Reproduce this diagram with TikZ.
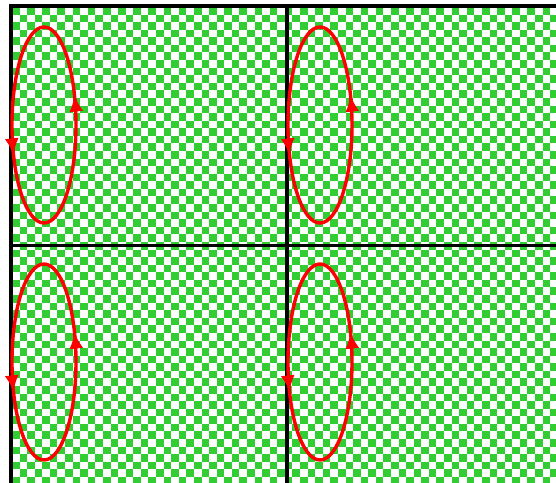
\documentclass[tikz,border=0pt]{standalone}
\usetikzlibrary{arrows.meta,decorations.markings}
\definecolor{ckgreen}{RGB}{50,205,50}
\begin{document}
\begin{tikzpicture}[x=1pt,y=1pt,
  frame/.style={line width=3.3pt, black, line join=miter},
  orbit/.style={red, line width=3.4pt, postaction={decorate},
    decoration={markings,
      mark=at position 0.07 with {\arrow{Latex[length=17pt,width=14pt]}},
      mark=at position 0.57 with {\arrow{Latex[length=17pt,width=14pt]}}}}]
\useasboundingbox (0,0) rectangle (556,482);
\clip (0,0) rectangle (556,482);
\def\c{7.58}
\foreach \i in {0,...,71}{
  \foreach \j in {0,...,62}{
    \ifodd\numexpr\i+\j\relax\else
      \fill[ckgreen] ({12+\i*\c},{475-\j*\c}) rectangle ++(\c,-\c);
    \fi
  }
}
\draw[frame] (11,-5) |- (561,476);
\draw[frame] (287,476) -- (287,-5);
\draw[frame] (11,236.5) -- (561,236.5);
\draw[orbit] (44,357) ellipse [x radius=32, y radius=98];
\draw[orbit] (320,357) ellipse [x radius=32, y radius=98];
\draw[orbit] (44,120) ellipse [x radius=32, y radius=98];
\draw[orbit] (320,120) ellipse [x radius=32, y radius=98];
\end{tikzpicture}
\end{document}
